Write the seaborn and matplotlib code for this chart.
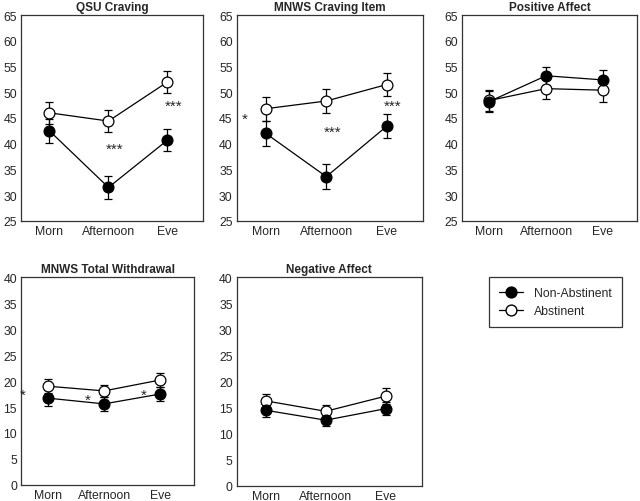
import pandas as pd
import numpy as np
import seaborn as sns
import matplotlib.pyplot as plt
from matplotlib.lines import Line2D

sns.set_style('white')
plt.rcParams['font.family'] = ['Liberation Sans', 'DejaVu Sans']

times = ['Morn', 'Afternoon', 'Eve']
groups = ['Non-Abstinent', 'Abstinent']

titles = ['QSU Craving', 'MNWS Craving Item', 'Positive Affect',
          'MNWS Total Withdrawal', 'Negative Affect']

non_abst = [[42.5, 31.5, 40.7], [42.0, 33.6, 43.4], [48.2, 53.2, 52.4],
            [16.7, 15.6, 17.5], [14.5, 12.6, 14.8]]
non_abst_err = [[2.3, 2.2, 2.2], [2.4, 2.4, 2.3], [2.1, 1.8, 2.0],
                [1.5, 1.3, 1.3], [1.3, 1.2, 1.3]]
abst = [[46.0, 44.4, 52.0], [46.8, 48.3, 51.5], [48.4, 50.7, 50.4],
        [19.0, 18.1, 20.2], [16.3, 14.3, 17.2]]
abst_err = [[2.1, 2.1, 2.2], [2.3, 2.3, 2.3], [2.1, 2.0, 2.2],
            [1.3, 1.1, 1.4], [1.3, 1.2, 1.5]]

ylims = [(25, 65), (25, 65), (25, 65), (0, 40), (0, 40)]

# significance marks: (panel, x, y, text)
stars = [(0, 1.1, 39.0, '***'), (0, 2.1, 47.3, '***'),
         (1, -0.35, 44.8, '*'), (1, 1.1, 42.3, '***'), (1, 2.1, 47.3, '***'),
         (3, -0.45, 17.4, '*'), (3, 0.7, 16.4, '*'), (3, 1.7, 17.4, '*')]

# axes rectangles in figure fractions
boxes = [[0.033, 0.558, 0.284, 0.410],
         [0.370, 0.558, 0.291, 0.410],
         [0.722, 0.558, 0.273, 0.410],
         [0.033, 0.032, 0.270, 0.414],
         [0.370, 0.030, 0.289, 0.416]]

fig = plt.figure(figsize=(6.4, 5.02), dpi=100)

for i, t in enumerate(titles):
    ax = fig.add_axes(boxes[i])
    df = pd.DataFrame({
        'x': list(range(3)) * 2,
        'y': non_abst[i] + abst[i],
        'err': non_abst_err[i] + abst_err[i],
        'group': [groups[0]] * 3 + [groups[1]] * 3,
    })
    # abstinent drawn first so the filled markers sit on top
    for g, face, z in [(groups[1], 'white', 3), (groups[0], 'black', 4)]:
        d = df[df['group'] == g]
        ax.errorbar(d['x'], d['y'], yerr=d['err'], fmt='none', ecolor='black',
                    elinewidth=0.9, capsize=3, capthick=0.9, zorder=2)
        sns.lineplot(data=d, x='x', y='y', ax=ax, color='black', lw=0.9,
                     marker='o', markersize=7.8, markerfacecolor=face,
                     markeredgecolor='black', markeredgewidth=0.9, zorder=z,
                     estimator=None, legend=False)
    for p, sx, sy, s in stars:
        if p == i:
            ax.text(sx, sy, s, ha='center', va='center', fontsize=11)
    ax.set_xlim(-0.48, 2.6)
    ax.set_ylim(*ylims[i])
    ax.set_yticks(np.arange(ylims[i][0], ylims[i][1] + 1, 5))
    ax.set_xticks(range(3))
    ax.set_xticklabels(times)
    ax.set_xlabel('')
    ax.set_ylabel('')
    ax.set_title(t, fontsize=8.5, fontweight='bold', pad=4)
    ax.tick_params(axis='both', labelsize=8.8, length=0, pad=3)
    for sp in ax.spines.values():
        sp.set_color('#333333')
        sp.set_linewidth(0.9)

handles = [Line2D([], [], color='black', lw=0.9, marker='o', markersize=7.8,
                  markerfacecolor=f, markeredgecolor='black')
           for f in ['black', 'white']]
leg = fig.legend(handles, groups, loc='upper left',
                 bbox_to_anchor=(489 / 640, 1 - 278 / 502), fontsize=8.8,
                 frameon=True, fancybox=False, edgecolor='black',
                 handlelength=2.0, handletextpad=0.9, borderpad=0.8,
                 labelspacing=0.55, borderaxespad=0)
leg.get_frame().set_linewidth(0.9)

plt.savefig('out.png', dpi=100)
